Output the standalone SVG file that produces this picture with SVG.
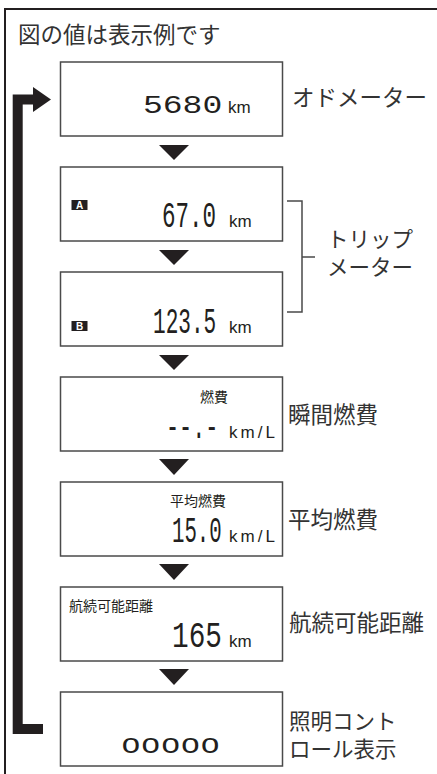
<svg xmlns="http://www.w3.org/2000/svg" width="437" height="774" viewBox="0 0 437 774">
<style>
.box{fill:#fff;stroke:#4a4a4a;stroke-width:1.5}
.tri{fill:#231f20}
.lbl{font-family:"Noto Sans CJK JP","Noto Sans",sans-serif;font-size:22.5px;fill:#333}
.lbl2{font-family:"Noto Sans CJK JP","Noto Sans",sans-serif;font-size:21.5px;fill:#333}
.small{font-family:"Noto Sans CJK JP","Noto Sans",sans-serif;font-size:14px;fill:#231f20}
.lcd{font-family:"Liberation Mono","DejaVu Sans Mono",monospace;fill:#231f20}
.unit{font-family:"Liberation Sans",Arial,sans-serif;font-size:17px;fill:#231f20}
.badge{fill:#231f20}
.badgetxt{font-family:"Liberation Sans",Arial,sans-serif;font-size:10px;font-weight:bold;fill:#fff;text-anchor:middle}
</style>
<rect width="437" height="774" fill="#fff"/>
<path d="M5,774 V9 H437" fill="none" stroke="#231f20" stroke-width="2"/>
<text class="lbl" x="18" y="43">図の値は表示例です</text>

<g id="connectors">
<path d="M43,729 H17.7 V99.5 H34" fill="none" stroke="#231f20" stroke-width="10" stroke-linejoin="miter"/>
<polygon points="33,87 51,99.5 33,112" fill="#231f20"/>
<polygon class="tri" points="159,145 189,145 174,160"/>
<polygon class="tri" points="159,250 189,250 174,265"/>
<polygon class="tri" points="159,355 189,355 174,370"/>
<polygon class="tri" points="159,459 189,459 174,475"/>
<polygon class="tri" points="159,564 189,564 174,580"/>
<polygon class="tri" points="159,669 189,669 174,685"/>
<path d="M287,201 H302 V312 H287 M302,257 H315" fill="none" stroke="#4a4a4a" stroke-width="1.5"/>
</g>

<g id="odometer">
<rect class="box" x="60.5" y="62" width="222" height="74"/>
<text class="lcd" font-size="26" transform="translate(143,113) scale(1.27,1)">5680</text>
<text class="unit" x="228" y="113">km</text>
<text class="lbl" x="292" y="106">オドメーター</text>
</g>

<g id="tripA">
<rect class="box" x="60.5" y="167" width="222" height="74"/>
<rect class="badge" x="71.5" y="200" width="16" height="10"/>
<text class="badgetxt" x="79.5" y="209">A</text>
<text class="lcd" font-size="37" transform="translate(162,227) scale(0.61,1)">67.0</text>
<text class="unit" x="229" y="227">km</text>
</g>

<g id="tripB">
<rect class="box" x="60.5" y="272" width="222" height="74"/>
<rect class="badge" x="71.5" y="321" width="16" height="10"/>
<text class="badgetxt" x="79.5" y="330">B</text>
<text class="lcd" font-size="37" transform="translate(153,333) scale(0.57,1)">123.5</text>
<text class="unit" x="229" y="333">km</text>
</g>

<g id="trip-label">
<text class="lbl2" x="327" y="247">トリップ</text>
<text class="lbl2" x="327" y="275">メーター</text>
</g>

<g id="instant">
<rect class="box" x="60.5" y="377" width="222" height="74"/>
<text class="small" x="200" y="402">燃費</text>
<text class="lcd" font-size="37" transform="translate(166,438) scale(0.59,1)">--.-</text>
<text class="unit" x="229" y="438" textLength="46" lengthAdjust="spacing">km/L</text>
<text class="lbl" x="288" y="423">瞬間燃費</text>
</g>

<g id="average">
<rect class="box" x="60.5" y="482" width="222" height="74"/>
<text class="small" x="170" y="506">平均燃費</text>
<text class="lcd" font-size="37" transform="translate(172,542) scale(0.56,1)">15.0</text>
<text class="unit" x="229" y="542" textLength="46" lengthAdjust="spacing">km/L</text>
<text class="lbl" x="288" y="528">平均燃費</text>
</g>

<g id="range">
<rect class="box" x="60.5" y="587" width="222" height="74"/>
<text class="small" x="69" y="611">航続可能距離</text>
<text class="lcd" font-size="37" transform="translate(172,647) scale(0.75,1)">165</text>
<text class="unit" x="229" y="647">km</text>
<text class="lbl" x="289" y="631">航続可能距離</text>
</g>

<g id="lighting">
<rect class="box" x="60.5" y="692" width="222" height="74"/>
<text class="lcd" font-size="28" transform="translate(121,753) scale(1.18,1)">ooooo</text>
<text class="lbl2" x="289" y="729">照明コント</text>
<text class="lbl2" x="289" y="757">ロール表示</text>
</g>
</svg>
